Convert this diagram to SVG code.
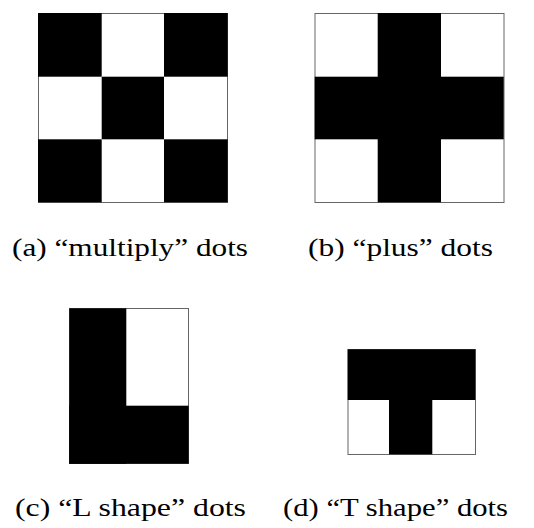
<svg xmlns="http://www.w3.org/2000/svg" width="534" height="528" viewBox="0 0 534 528">
<style>
.b{fill:#000}
.frame{fill:none;stroke:#666;stroke-width:1}
.cap{font-family:"Liberation Serif","Times New Roman",serif;font-size:25px;fill:#000}
</style>
<rect width="534" height="528" fill="#fff"/>
<g id="multiply">
<rect class="frame" x="38.5" y="13.5" width="189" height="189"/>
<rect class="b" x="38" y="13" width="63.7" height="63.7"/>
<rect class="b" x="164" y="13" width="63.7" height="63.7"/>
<rect class="b" x="101.7" y="76.7" width="62.3" height="62.6"/>
<rect class="b" x="38" y="139.3" width="63.7" height="63"/>
<rect class="b" x="164" y="139.3" width="63.7" height="63"/>
<text class="cap" x="12" y="256" textLength="236" lengthAdjust="spacingAndGlyphs">(a)  “multiply” dots</text>
</g>
<g id="plus">
<rect class="frame" x="315" y="13.5" width="189" height="189"/>
<rect class="b" x="377.7" y="13" width="63.3" height="189.3"/>
<rect class="b" x="314.7" y="76.7" width="189" height="62.6"/>
<text class="cap" x="308" y="256" textLength="185" lengthAdjust="spacingAndGlyphs">(b)  “plus” dots</text>
</g>
<g id="lshape">
<rect class="frame" x="69.5" y="308.5" width="119" height="155"/>
<rect class="b" x="69.3" y="308.3" width="57" height="155.4"/>
<rect class="b" x="69.3" y="405.7" width="119.4" height="58"/>
<text class="cap" x="15" y="516" textLength="231" lengthAdjust="spacingAndGlyphs">(c)  “L shape” dots</text>
</g>
<g id="tshape">
<rect class="frame" x="348" y="349.5" width="127.5" height="105"/>
<rect class="b" x="347.7" y="349.3" width="127.6" height="50.7"/>
<rect class="b" x="389" y="400" width="43.3" height="54.3"/>
<text class="cap" x="283" y="516" textLength="225" lengthAdjust="spacingAndGlyphs">(d)  “T shape” dots</text>
</g>
</svg>
